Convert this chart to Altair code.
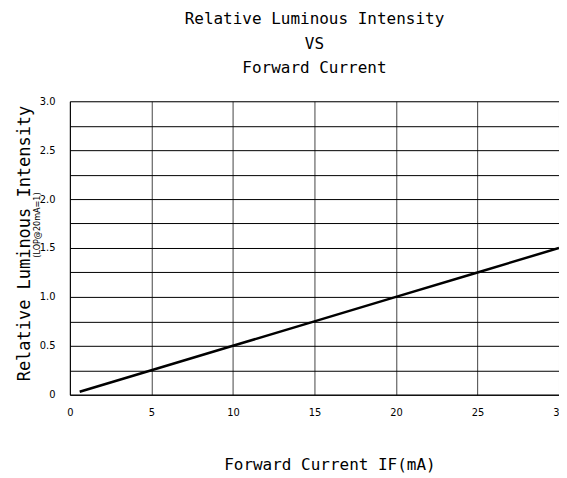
import altair as alt
import pandas as pd

# Data
current = [0.6, 5, 10, 15, 20, 25, 30]
intensity = [0.03, 0.25, 0.5, 0.75, 1.0, 1.25, 1.5]

x_ticks = [0, 5, 10, 15, 20, 25, 30]
y_ticks = [0, 0.25, 0.5, 0.75, 1.0, 1.25, 1.5, 1.75, 2.0, 2.25, 2.5, 2.75, 3.0]

title_lines = ["Relative Luminous Intensity", "VS", "Forward Current"]
x_title = "Forward Current  IF(mA)"
y_title = "Relative Luminous Intensity"
y_subtitle = "(LOP@20mA=1)"

MONO = "DejaVu Sans Mono"
NARROW = "DejaVu Sans Condensed, Liberation Sans Narrow, Liberation Sans, Arial"

df = pd.DataFrame({"current": current, "intensity": intensity})

y_label_expr = (
    "datum.value == 0 ? '0' : "
    "(round(datum.value * 2) == datum.value * 2 ? format(datum.value, '.1f') : '')"
)

line = alt.Chart(df).mark_line(color="black", strokeWidth=2.5).encode(
    x=alt.X(
        "current:Q",
        scale=alt.Scale(domain=[0, 30], nice=False, zero=False),
        axis=alt.Axis(
            values=x_ticks,
            title=x_title,
            titleFont=MONO,
            titleFontSize=16,
            titleFontWeight="normal",
            titleColor="black",
            titleX=260,
            titleY=70,
            titleAlign="center",
            titleBaseline="middle",
            labelFont=NARROW,
            labelFontSize=11,
            labelColor="black",
            labelPadding=12,
            ticks=False,
            grid=True,
            gridColor="#444444",
            gridWidth=1,
            gridOpacity=1,
            domainColor="black",
            labelFlush=False,
        ),
    ),
    y=alt.Y(
        "intensity:Q",
        scale=alt.Scale(domain=[0, 3], nice=False),
        axis=alt.Axis(
            values=y_ticks,
            labelExpr=y_label_expr,
            title=y_title,
            titleFont=MONO,
            titleFontSize=17,
            titleFontWeight="normal",
            titleColor="black",
            titleAngle=270,
            titleX=-45,
            titleY=142,
            titleAlign="center",
            titleBaseline="middle",
            labelFont=NARROW,
            labelFontSize=11,
            labelColor="black",
            labelPadding=15,
            ticks=False,
            grid=True,
            gridColor="black",
            gridWidth=1,
            gridOpacity=1,
            domainColor="black",
            labelFlush=False,
        ),
    ),
)

sub = alt.Chart(pd.DataFrame({"t": [y_subtitle]})).mark_text(
    angle=270, font=NARROW, fontSize=9, color="black", align="center", baseline="middle"
).encode(
    x=alt.value(-33),
    y=alt.value(124),
    text="t:N",
)

chart = alt.layer(line, sub).properties(
    width=490,
    height=294,
    autosize=alt.AutoSizeParams(type="none"),
    padding={"left": 62, "top": 93, "right": 0, "bottom": 80},
    title=alt.TitleParams(
        text=title_lines,
        font=MONO,
        fontSize=16,
        fontWeight="normal",
        color="black",
        anchor="middle",
        lineHeight=24.5,
        offset=19,
    ),
).configure_view(stroke="black", strokeWidth=1).configure(background="white")

chart.save("out.html", embed_options={"renderer": "svg", "actions": False})
